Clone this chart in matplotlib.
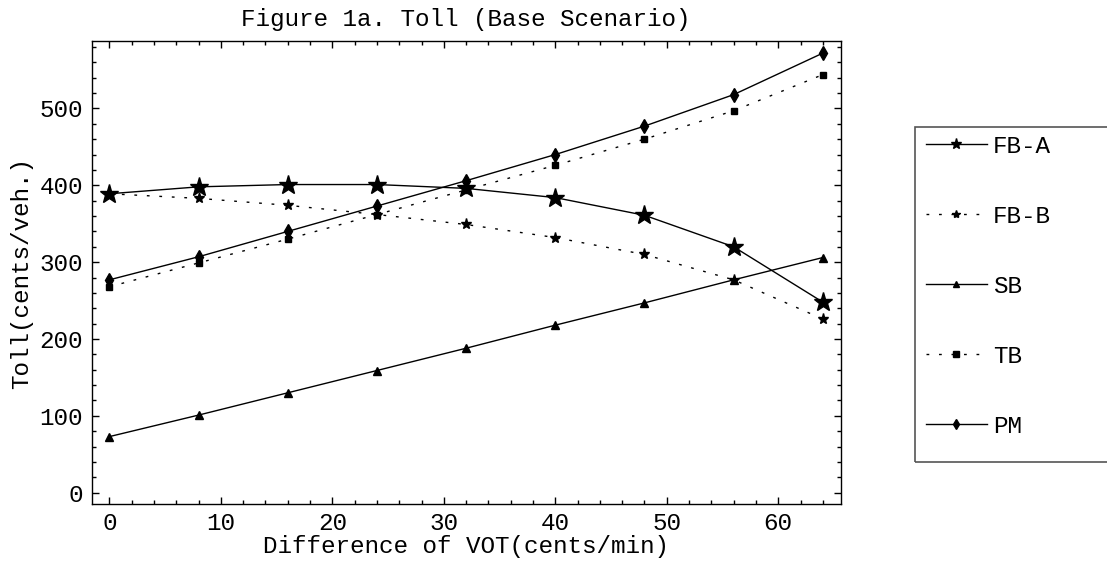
import numpy as np
import matplotlib.pyplot as plt
from matplotlib.patches import Rectangle
from matplotlib.ticker import MultipleLocator

plt.rcParams['font.family'] = ['Liberation Mono', 'DejaVu Sans Mono']

# difference of VOT (cents/min)
vot = [0, 8, 16, 24, 32, 40, 48, 56, 64]

# toll (cents/veh.) for each scheme
fb_a = [389, 398, 401, 401, 396, 384, 361, 320, 248]
fb_b = [389, 383, 374, 362, 349, 332, 310, 277, 226]
sb = [73, 101, 130, 159, 188, 218, 247, 277, 306]
tb = [268, 299, 330, 362, 394, 426, 460, 497, 544]
pm = [277, 307, 340, 373, 406, 440, 477, 518, 572]

labels = ['FB-A', 'FB-B', 'SB', 'TB', 'PM']

fig = plt.figure(figsize=(11.07, 5.61), dpi=100)
ax = fig.add_axes([0.0827, 0.1016, 0.6767, 0.8248])

dots = (0, (2, 7))
h1, = ax.plot(vot, fb_a, 'k-', lw=1, marker='*', ms=14)
h2, = ax.plot(vot, fb_b, color='k', ls=dots, lw=1, marker='*', ms=8)
h3, = ax.plot(vot, sb, 'k-', lw=1, marker='^', ms=6)
h4, = ax.plot(vot, tb, color='k', ls=dots, lw=1, marker='s', ms=5)
h5, = ax.plot(vot, pm, 'k-', lw=1, marker='d', ms=7)

ax.set_xlim(-1.6, 65.6)
ax.set_ylim(-14.7, 587.4)
ax.xaxis.set_major_locator(MultipleLocator(10))
ax.xaxis.set_minor_locator(MultipleLocator(2))
ax.yaxis.set_major_locator(MultipleLocator(100))
ax.yaxis.set_minor_locator(MultipleLocator(20))
ax.tick_params(which='both', direction='in', top=True, right=True,
               labelsize=17.5, width=1)
ax.tick_params(which='major', length=5, pad=6)
ax.tick_params(which='minor', length=3)
for s in ax.spines.values():
    s.set_linewidth(1)

ax.set_title('Figure 1a. Toll (Base Scenario)', fontsize=17.5, pad=11)
ax.set_xlabel('Difference of VOT(cents/min)', fontsize=17.5, labelpad=0)
ax.set_ylabel('Toll(cents/veh.)', fontsize=17.5, labelpad=5)

# legend box runs off the right edge
fig.patches.append(Rectangle((915 / 1107, 1 - 462 / 561), 0.2, 335 / 561,
                             transform=fig.transFigure, fill=False,
                             ec='#555555', lw=1.2, clip_on=False))
leg = fig.legend([h1, h2, h3, h4, h5], labels, loc='upper left',
                 bbox_to_anchor=(926 / 1107, 1 - 135 / 561), frameon=False,
                 fontsize=17.5, handlelength=2.5, handletextpad=0.25,
                 labelspacing=1.93, borderpad=0, borderaxespad=0)
for h, m in zip(leg.legend_handles, [8, 6, 5, 4, 5]):
    h.set_markersize(m)

fig.savefig('out.png', dpi=100)
